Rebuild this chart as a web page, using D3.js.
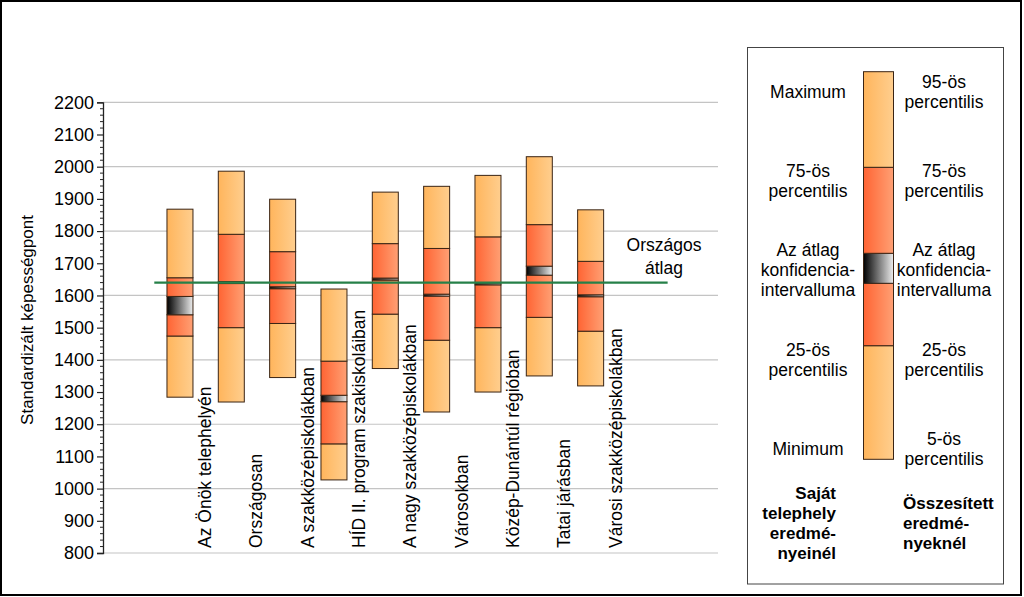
<!DOCTYPE html>
<html><head><meta charset="utf-8">
<script src="https://cdn.jsdelivr.net/npm/d3@7"></script>
<style>
html,body{margin:0;padding:0;background:#fff;}
svg text{font-family:"Liberation Sans",Arial,sans-serif;fill:#000;}
</style></head>
<body>
<svg id="c" width="1024" height="597"></svg>
<script>
const categories = ["Az Önök telephelyén","Országosan","A szakközépiskolákban","HÍD II. program szakiskoláiban","A nagy szakközépiskolákban","Városokban","Közép-Dunántúl régióban","Tatai járásban","Városi szakközépiskolákban"];
const minVals  = [1284,1269,1345,1027,1373,1238,1300,1350,1319];
const p25Vals  = [1474,1500,1513,1139,1542,1461,1500,1532,1489];
const ciLow    = [1540,1637,1621,1270,1648,1598,1633,1663,1596];
const ciHigh   = [1597,1643,1627,1290,1654,1604,1639,1691,1602];
const p75Vals  = [1655,1790,1736,1396,1761,1746,1782,1820,1706];
const maxVals  = [1868,1986,1899,1620,1921,1939,1973,2031,1866];
const nationalAvg = 1640;
const yTicks = [800,900,1000,1100,1200,1300,1400,1500,1600,1700,1800,1900,2000,2100,2200];
const gridVals = [800,1000,1200,1400,1600,1800,2000,2200];

const svg = d3.select("#c");
const defs = svg.append("defs");
function grad(id, c1, c2){
  const g = defs.append("linearGradient").attr("id",id).attr("x1","0%").attr("x2","100%").attr("y1","0%").attr("y2","0%");
  g.append("stop").attr("offset","0%").attr("stop-color",c1);
  g.append("stop").attr("offset","100%").attr("stop-color",c2);
}
grad("gLight","#FFB55C","#FFCE8E");
grad("gDark","#FF6433","#FFA074");
grad("gCI","#000000","#EDEDED");

// outer border
svg.append("rect").attr("x",1).attr("y",1).attr("width",1020).attr("height",594)
  .attr("fill","none").attr("stroke","#000").attr("stroke-width",2);

const y = d3.scaleLinear().domain([800,2200]).range([553,102.3]);
const x = d3.scaleBand().domain(categories).range([154.3,616.3]).padding(0);
const step = x.step();
const bw = 26;
const cx = c => x(c) + step/2;
const plotL = 103, plotR = 718;

// gridlines
svg.append("g").selectAll("line").data(gridVals).join("line")
  .attr("x1",plotL).attr("x2",plotR).attr("y1",d=>y(d)).attr("y2",d=>y(d))
  .attr("stroke","#c4c4c4").attr("stroke-width",1.2);

// y axis
const ax = svg.append("g").attr("transform",`translate(${plotL},0)`)
  .call(d3.axisLeft(y).tickValues(yTicks).tickSize(6).tickPadding(3).tickFormat(d3.format("d")));
ax.select(".domain").attr("stroke","#222").attr("stroke-width",1.3);
ax.selectAll(".tick line").attr("stroke","#222").attr("stroke-width",1.2);
ax.selectAll(".tick text").style("font-size","18px").attr("fill","#000");
// minor ticks
const minor = d3.range(800,2200,20).filter(v=>v%100!==0);
svg.append("g").selectAll("line").data(minor).join("line")
  .attr("x1",plotL-3).attr("x2",plotL).attr("y1",d=>y(d)).attr("y2",d=>y(d))
  .attr("stroke","#222").attr("stroke-width",1);

// y title
svg.append("text").attr("transform","translate(33,320) rotate(-90)")
  .attr("text-anchor","middle").style("font-size","17px").text("Standardizált képességpont");

// bars
const data = categories.map((c,i)=>({c,min:minVals[i],p25:p25Vals[i],lo:ciLow[i],hi:ciHigh[i],p75:p75Vals[i],max:maxVals[i]}));
const bars = svg.append("g");
data.forEach(d=>{
  const x0 = cx(d.c)-bw/2;
  const segs = [
    [d.min,d.p25,"url(#gLight)"],
    [d.p25,d.lo,"url(#gDark)"],
    [d.lo,d.hi,"url(#gCI)"],
    [d.hi,d.p75,"url(#gDark)"],
    [d.p75,d.max,"url(#gLight)"]
  ];
  segs.forEach(s=>{
    bars.append("rect").attr("x",x0).attr("width",bw)
      .attr("y",y(s[1])).attr("height",Math.max(0.5,y(s[0])-y(s[1])))
      .attr("fill",s[2]).attr("stroke","#3a2414").attr("stroke-width",1);
  });
});

// national average line
svg.append("line").attr("x1",x(categories[0])).attr("x2",x(categories[categories.length-1])+step*2)
  .attr("y1",y(nationalAvg)).attr("y2",y(nationalAvg))
  .attr("stroke","#268048").attr("stroke-width",2.2);
const avgT = svg.append("text").attr("text-anchor","middle").style("font-size","17.5px");
avgT.append("tspan").attr("x",664).attr("y",251).text("Országos");
avgT.append("tspan").attr("x",664).attr("y",274).text("átlag");

// category labels
svg.append("g").selectAll("text").data(categories).join("text")
  .attr("transform",d=>`translate(${cx(d)+31},548) rotate(-90)`)
  .attr("text-anchor","start").style("font-size","17.5px").text(d=>d);

// legend
svg.append("rect").attr("x",747.5).attr("y",47.5).attr("width",256).attr("height",536.5)
  .attr("fill","#fff").attr("stroke","#444").attr("stroke-width",1);
const legLevels = [459.3,345.7,283.3,253.3,167.3,71.7];
const lx = 863.5, lw = 30;
const lsegs = [[0,1,"url(#gLight)"],[1,2,"url(#gDark)"],[2,3,"url(#gCI)"],[3,4,"url(#gDark)"],[4,5,"url(#gLight)"]];
lsegs.forEach(s=>{
  svg.append("rect").attr("x",lx).attr("width",lw).attr("y",legLevels[s[1]])
    .attr("height",legLevels[s[0]]-legLevels[s[1]]).attr("fill",s[2])
    .attr("stroke","#3a2414").attr("stroke-width",1);
});
const leftLabels = [
  [["Maximum"],97.5],
  [["75-ös","percentilis"],177],
  [["Az átlag","konfidencia-","intervalluma"],256],
  [["25-ös","percentilis"],355.5],
  [["Minimum"],454.5]
];
const rightLabels = [
  [["95-ös","percentilis"],87.5],
  [["75-ös","percentilis"],177],
  [["Az átlag","konfidencia-","intervalluma"],256],
  [["25-ös","percentilis"],355.5],
  [["5-ös","percentilis"],444.5]
];
function multi(lines, xPos, y0, anchor, weight, size){
  const t = svg.append("text").attr("text-anchor",anchor).style("font-size",size).style("font-weight",weight);
  lines.forEach((l,i)=>t.append("tspan").attr("x",xPos).attr("y",y0+i*20).text(l));
}
leftLabels.forEach(l=>multi(l[0],808,l[1],"middle","normal","17.5px"));
rightLabels.forEach(l=>multi(l[0],944,l[1],"middle","normal","17.5px"));
multi(["Saját","telephely","eredmé-","nyeinél"],836,499,"end","bold","17px");
multi(["Összesített","eredmé-","nyeknél"],903,509,"start","bold","17px");
</script>
</body></html>
